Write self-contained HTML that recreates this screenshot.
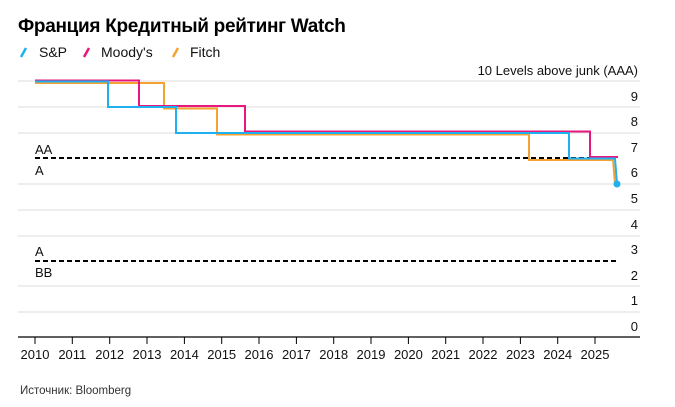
<!DOCTYPE html>
<html><head><meta charset="utf-8"><style>
body{margin:0;background:#fff;width:675px;height:402px;overflow:hidden;font-family:"Liberation Sans",sans-serif}
</style></head><body>
<svg width="675" height="402" xmlns="http://www.w3.org/2000/svg" font-family="Liberation Sans, sans-serif">
<text x="18" y="32" font-size="19" font-weight="bold" fill="#000" letter-spacing="-0.3">Франция Кредитный рейтинг Watch</text>
<g font-size="14" fill="#111">
<line x1="21" y1="57" x2="26" y2="48" stroke="#1fb0f0" stroke-width="2.5"/><text x="39" y="57">S&amp;P</text>
<line x1="84" y1="57" x2="89" y2="48" stroke="#e8177f" stroke-width="2.5"/><text x="101" y="57">Moody's</text>
<line x1="173" y1="57" x2="178" y2="48" stroke="#f4a332" stroke-width="2.5"/><text x="190" y="57">Fitch</text>
</g>
<text x="638" y="75" font-size="13" text-anchor="end" fill="#111">10 Levels above junk (AAA)</text>
<g stroke="#ddd" stroke-width="1">
<line x1="18" y1="81" x2="640" y2="81"/><line x1="18" y1="107" x2="640" y2="107"/><line x1="18" y1="133" x2="640" y2="133"/>
<line x1="18" y1="184" x2="640" y2="184"/><line x1="18" y1="210" x2="640" y2="210"/><line x1="18" y1="236" x2="640" y2="236"/>
<line x1="18" y1="286" x2="640" y2="286"/><line x1="18" y1="312" x2="640" y2="312"/>
</g>
<g font-size="13" fill="#111" text-anchor="end">
<text x="638" y="101">9</text><text x="638" y="126">8</text><text x="638" y="152">7</text><text x="638" y="177">6</text>
<text x="638" y="203">5</text><text x="638" y="229">4</text><text x="638" y="254">3</text><text x="638" y="280">2</text>
<text x="638" y="305">1</text><text x="638" y="331">0</text>
</g>
<g stroke="#000" stroke-width="2" stroke-dasharray="5,3">
<line x1="35" y1="158" x2="618" y2="158"/><line x1="35" y1="261" x2="618" y2="261"/>
</g>
<g font-size="13" fill="#111">
<text x="35" y="154">AA</text><text x="35" y="175">A</text><text x="35" y="256">A</text><text x="35" y="277">BB</text>
</g>
<g fill="none" stroke-width="2">
<polyline stroke="#f4a332" points="35,83 164,83 164,108.5 217,108.5 217,134.5 529,134.5 529,160 613,160 615,184"/>
<polyline stroke="#e8177f" points="35,80.5 139,80.5 139,106 245,106 245,131.5 590,131.5 590,157 618,157"/>
<polyline stroke="#1fb0f0" points="35,81.5 108,81.5 108,107 176,107 176,133 569,133 569,158.5 615,158.5 617,184"/>
</g>
<circle cx="617" cy="184" r="3.5" fill="#1fb0f0"/>
<line x1="18" y1="337" x2="640" y2="337" stroke="#000" stroke-width="1.2"/>
<g stroke="#000" stroke-width="1">
<line x1="35" y1="337" x2="35" y2="344"/><line x1="72.3" y1="337" x2="72.3" y2="344"/><line x1="109.7" y1="337" x2="109.7" y2="344"/><line x1="147" y1="337" x2="147" y2="344"/><line x1="184.4" y1="337" x2="184.4" y2="344"/><line x1="221.7" y1="337" x2="221.7" y2="344"/><line x1="259" y1="337" x2="259" y2="344"/><line x1="296.4" y1="337" x2="296.4" y2="344"/><line x1="333.7" y1="337" x2="333.7" y2="344"/><line x1="371" y1="337" x2="371" y2="344"/><line x1="408.4" y1="337" x2="408.4" y2="344"/><line x1="445.7" y1="337" x2="445.7" y2="344"/><line x1="483" y1="337" x2="483" y2="344"/><line x1="520.4" y1="337" x2="520.4" y2="344"/><line x1="557.7" y1="337" x2="557.7" y2="344"/><line x1="595" y1="337" x2="595" y2="344"/>
</g>
<g font-size="13" fill="#111" text-anchor="middle">
<text x="35" y="359">2010</text><text x="72.3" y="359">2011</text><text x="109.7" y="359">2012</text><text x="147" y="359">2013</text><text x="184.4" y="359">2014</text><text x="221.7" y="359">2015</text><text x="259" y="359">2016</text><text x="296.4" y="359">2017</text><text x="333.7" y="359">2018</text><text x="371" y="359">2019</text><text x="408.4" y="359">2020</text><text x="445.7" y="359">2021</text><text x="483" y="359">2022</text><text x="520.4" y="359">2023</text><text x="557.7" y="359">2024</text><text x="595" y="359">2025</text>
</g>
<text x="20" y="394" font-size="11.5" fill="#333">Источник: Bloomberg</text>
</svg>
</body></html>
